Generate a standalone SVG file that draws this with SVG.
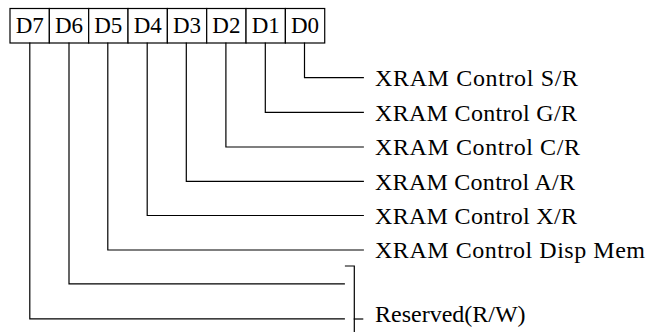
<svg xmlns="http://www.w3.org/2000/svg" width="647" height="332" viewBox="0 0 647 332">
<style>
.ln{stroke:#000;stroke-width:1.2;fill:none;stroke-linecap:square}
.cell{fill:#fff;stroke:#000;stroke-width:1.2}
.bit{font-family:"Liberation Serif","Times New Roman",serif;font-size:23px;fill:#000;text-anchor:middle}
.lbl{font-family:"Liberation Serif","Times New Roman",serif;font-size:24px;fill:#000}
</style>
<g id="register">
<rect class="cell" x="10" y="8.5" width="39.34" height="34.5"/>
<rect class="cell" x="49.34" y="8.5" width="39.34" height="34.5"/>
<rect class="cell" x="88.68" y="8.5" width="39.34" height="34.5"/>
<rect class="cell" x="128.02" y="8.5" width="39.34" height="34.5"/>
<rect class="cell" x="167.36" y="8.5" width="39.34" height="34.5"/>
<rect class="cell" x="206.7" y="8.5" width="39.34" height="34.5"/>
<rect class="cell" x="246.04" y="8.5" width="39.34" height="34.5"/>
<rect class="cell" x="285.38" y="8.5" width="39.34" height="34.5"/>
<text class="bit" x="29.7" y="33">D7</text>
<text class="bit" x="69" y="33">D6</text>
<text class="bit" x="108.3" y="33">D5</text>
<text class="bit" x="147.7" y="33">D4</text>
<text class="bit" x="187" y="33">D3</text>
<text class="bit" x="226.4" y="33">D2</text>
<text class="bit" x="265.7" y="33">D1</text>
<text class="bit" x="305" y="33">D0</text>
</g>
<g id="connectors">
<polyline class="ln" points="304.5,43 304.5,77.7 363.3,77.7"/>
<polyline class="ln" points="265.3,43 265.3,112.3 363.3,112.3"/>
<polyline class="ln" points="225.9,43 225.9,147 363.3,147"/>
<polyline class="ln" points="186.3,43 186.3,181.3 363.3,181.3"/>
<polyline class="ln" points="147.2,43 147.2,215.5 363.3,215.5"/>
<polyline class="ln" points="107.8,43 107.8,250 363.3,250"/>
<polyline class="ln" points="69,43 69,283.8 344.3,283.8"/>
<polyline class="ln" points="29.8,43 29.8,318.8 344.3,318.8"/>
<polyline class="ln" points="345.5,266 354.3,266 354.3,333"/>
<line class="ln" x1="354.3" y1="319" x2="362.7" y2="319"/>
</g>
<g id="labels">
<text class="lbl" x="375" y="86" textLength="203" lengthAdjust="spacing">XRAM Control S/R</text>
<text class="lbl" x="375" y="120.5" textLength="202" lengthAdjust="spacing">XRAM Control G/R</text>
<text class="lbl" x="375" y="155.2" textLength="205" lengthAdjust="spacing">XRAM Control C/R</text>
<text class="lbl" x="375" y="189.5" textLength="200" lengthAdjust="spacing">XRAM Control A/R</text>
<text class="lbl" x="375" y="223.8" textLength="202" lengthAdjust="spacing">XRAM Control X/R</text>
<text class="lbl" x="375" y="258.3" textLength="270" lengthAdjust="spacing">XRAM Control Disp Mem</text>
<text class="lbl" x="375" y="322">Reserved(R/W)</text>
</g>
</svg>
